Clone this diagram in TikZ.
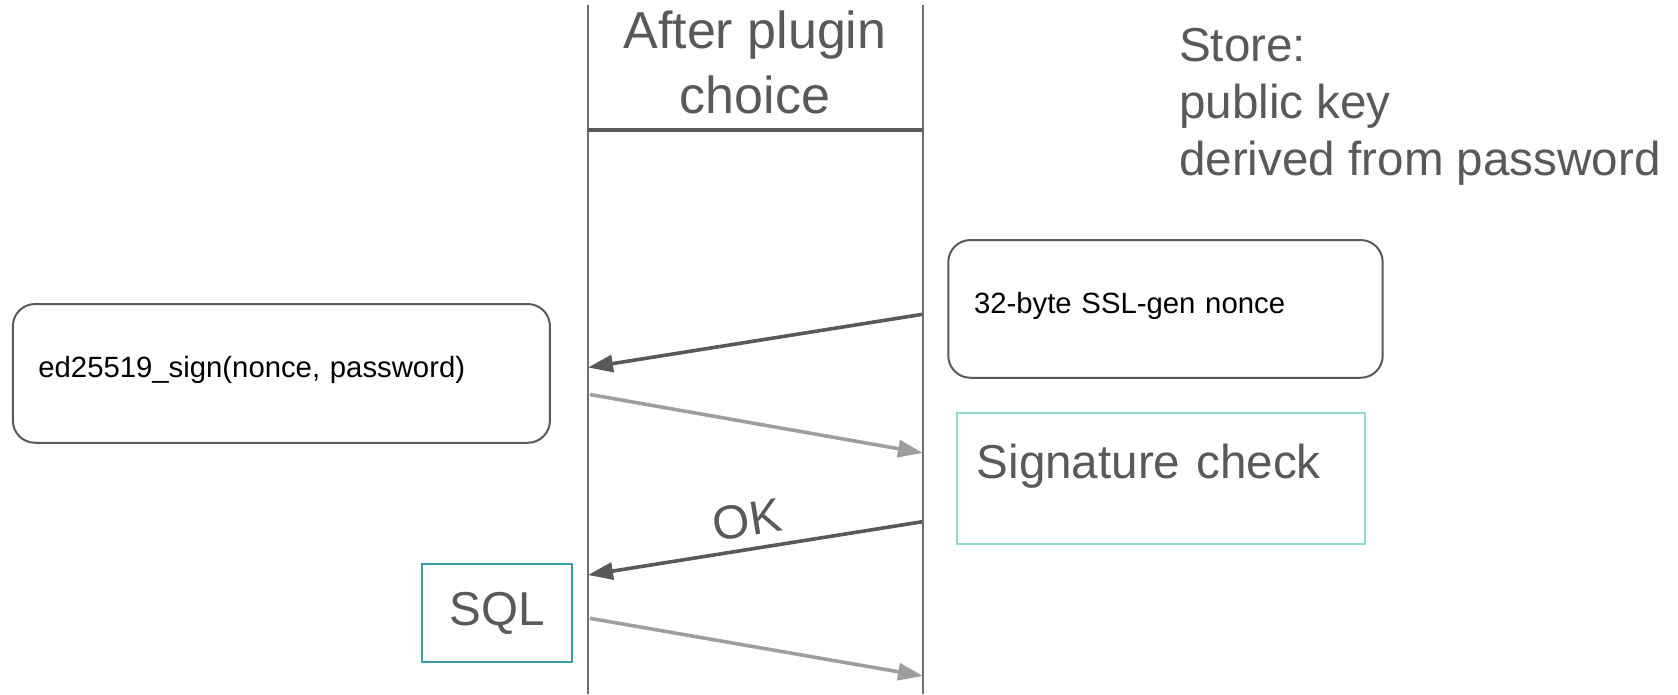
\documentclass[tikz,border=0pt]{standalone}
\usepackage{fontspec}
\setmainfont{Liberation Sans}
\usetikzlibrary{arrows.meta}
\definecolor{dk}{HTML}{595959}
\definecolor{lt}{HTML}{9E9E9E}
\definecolor{lifeln}{HTML}{707070}
\definecolor{tealA}{HTML}{8FDDCC}
\definecolor{tealB}{HTML}{3A9FA8}
\tikzset{
  lifeline/.style={draw=lifeln, line width=2pt},
  headline/.style={draw=dk, line width=4pt},
  bigtxt/.style={text=dk, font=\fontsize{47.6}{57}\selectfont, inner sep=0pt},
  hdrtxt/.style={text=dk, font=\fontsize{52}{65}\selectfont, inner sep=0pt, align=center},
  smalltxt/.style={text=black, font=\fontsize{29.3}{35}\selectfont},
  roundbox/.style={draw=dk, line width=2pt, rounded corners=22pt, smalltxt, align=left},
  darr/.style={draw=dk, line width=3.6pt, -{Triangle[length=25pt,width=17pt]}},
  larr/.style={draw=lt, line width=3.6pt, -{Triangle[length=25pt,width=17pt]}},
}
\begin{document}
\begin{tikzpicture}[x=1pt,y=-1pt]
\useasboundingbox (0,0) rectangle (1678,694);
% lifelines
\coordinate (Ltop) at (587.5,5);
\coordinate (Lbot) at (587.5,694);
\coordinate (Rtop) at (922.5,5);
\coordinate (Rbot) at (922.5,694);
\draw[lifeline] (Ltop) -- (Lbot);
\draw[lifeline] (Rtop) -- (Rbot);
\coordinate (HL) at (587.5,129.5);
\coordinate (HR) at (922.5,129.5);
\draw[headline] (HL) -- (HR);
% header
\node[hdrtxt, anchor=north] (hdr) at (755,10.5) {After plugin\\choice};
% store text
\node[bigtxt, align=left, anchor=north west] (store) at (1179,28) {Store:\\public key\\derived from password};
% boxes
\node[roundbox, minimum width=537pt, minimum height=138.7pt, text width=486pt, inner xsep=25.5pt, text depth=13pt] (sign) at (281.4,373.4) {ed25519\_sign(nonce, password)};
\node[roundbox, minimum width=434.4pt, minimum height=137.7pt, text width=383pt, inner xsep=25.7pt, text depth=12pt] (nonce) at (1165.5,308.9) {32-byte SSL-gen nonce};
\node[draw=tealA, line width=2pt, text=dk, font=\fontsize{47.6}{57}\selectfont, minimum width=408.6pt, minimum height=130.7pt, text width=368.6pt, inner xsep=20pt, align=left, text depth=35pt] (sig) at (1161,478.7) {Signature check};
\node[draw=tealB, line width=2pt, text=dk, font=\fontsize{47.6}{57}\selectfont, minimum width=150pt, minimum height=97.7pt] (sql) at (497,612.9) {SQL};
% arrows
\coordinate (a1s) at (922.5,314.3);
\coordinate (a1e) at (588,367.5);
\coordinate (a2s) at (590,394.5);
\coordinate (a2e) at (923,453);
\coordinate (a3s) at (922.5,521.7);
\coordinate (a3e) at (588,575);
\coordinate (a4s) at (590,618.3);
\coordinate (a4e) at (923,676);
\draw[darr] (a1s) -- (a1e);
\draw[larr] (a2s) -- (a2e);
\draw[darr] (a3s) -- node[pos=0.51, sloped, above=11pt, bigtxt] (ok) {OK} (a3e);
\draw[larr] (a4s) -- (a4e);
\end{tikzpicture}
\end{document}
